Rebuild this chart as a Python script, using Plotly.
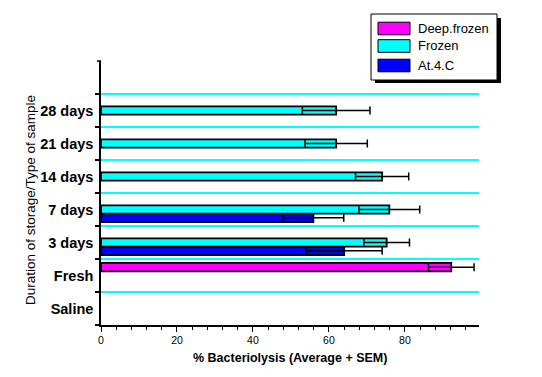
import plotly.graph_objects as go

categories = ["Saline", "Fresh", "3 days", "7 days", "14 days", "21 days", "28 days"]

# series values (% bacteriolysis) and SEM
deep_frozen_cats = ["Fresh"]
deep_frozen_vals = [92.2]
deep_frozen_err = [6.0]

frozen_cats = ["3 days", "7 days", "14 days", "21 days", "28 days"]
frozen_vals = [75.2, 75.9, 74.0, 61.9, 61.9]
frozen_err = [6.0, 8.0, 7.0, 8.2, 8.9]

at4c_cats = ["3 days", "7 days"]
at4c_vals = [64.0, 55.9]
at4c_err = [10.0, 8.0]

x_tick_vals = [0, 20, 40, 60, 80]

FONT = "Liberation Sans, Arial, sans-serif"

fig = go.Figure()

def add_series(name, cats, vals, errs, color):
    fig.add_trace(go.Bar(
        name=name, y=cats, x=vals, orientation="h",
        marker=dict(color=color, line=dict(color="black", width=1.8)),
        error_x=dict(type="data", array=errs, visible=True, color="black",
                     thickness=1.5, width=4),
        showlegend=False,
    ))

# order: bottom slot first
add_series("At.4.C", at4c_cats, at4c_vals, at4c_err, "#0000FF")
add_series("Frozen", frozen_cats, frozen_vals, frozen_err, "#00FFFF")
add_series("Deep.frozen", deep_frozen_cats, deep_frozen_vals, deep_frozen_err, "#FF00FF")

W, H = 542, 377
L, R, T, B = 101, 63, 61, 52
pw, ph = W - L - R, H - T - B

def px(x):
    return (x - L) / pw

def py(y):
    return (H - B - y) / ph

shapes = []
# small tick at top of y axis
shapes.append(dict(type="line", xref="paper", yref="paper",
                   x0=px(97), x1=px(101), y0=1, y1=1,
                   line=dict(color="black", width=1.5)))
# legend box with shadow
shapes.append(dict(type="rect", xref="paper", yref="paper",
                   x0=px(375), x1=px(501), y0=py(18), y1=py(83),
                   fillcolor="black", line=dict(width=0), layer="above"))
shapes.append(dict(type="rect", xref="paper", yref="paper",
                   x0=px(371), x1=px(497), y0=py(14), y1=py(80),
                   fillcolor="white", line=dict(color="black", width=1), layer="above"))

legend_items = [("Deep.frozen", "#FF00FF", 28.5), ("Frozen", "#00FFFF", 46.0), ("At.4.C", "#0000FF", 65.5)]
annotations = []
for name, color, cy in legend_items:
    shapes.append(dict(type="rect", xref="paper", yref="paper",
                       x0=px(378), x1=px(410), y0=py(cy - 6.3), y1=py(cy + 6.3),
                       fillcolor=color, line=dict(color="black", width=1), layer="above"))
    annotations.append(dict(xref="paper", yref="paper", x=px(416), y=py(cy),
                            text=name, showarrow=False, xanchor="left", yanchor="middle",
                            font=dict(family=FONT, size=13, color="black")))

annotations.append(dict(xref="paper", yref="paper", x=px(289.5), y=py(358),
                        text="<b>% Bacteriolysis (Average + SEM)</b>", showarrow=False,
                        xanchor="center", yanchor="middle",
                        font=dict(family=FONT, size=12.5, color="black")))
annotations.append(dict(xref="paper", yref="paper", x=px(30), y=py(200),
                        text="Duration of storage/Type of sample", showarrow=False,
                        textangle=-90, xanchor="center", yanchor="middle",
                        font=dict(family=FONT, size=13.5, color="black")))

fig.update_layout(
    width=W, height=H,
    margin=dict(l=L, r=R, t=T, b=B, pad=0),
    paper_bgcolor="white", plot_bgcolor="white",
    barmode="group", bargap=0.24, bargroupgap=0,
    font=dict(family=FONT, color="black"),
    shapes=shapes, annotations=annotations,
    showlegend=False,
)

fig.update_xaxes(
    range=[0, 99.5], tickmode="array", tickvals=x_tick_vals,
    ticks="outside", ticklen=5, tickwidth=1, tickcolor="black",
    showline=True, linecolor="black", linewidth=1.5,
    showgrid=False, zeroline=False,
    tickfont=dict(family=FONT, size=10.5, color="black"),
    minor=dict(tickmode="linear", tick0=0, dtick=4, ticks="outside",
               ticklen=3, tickcolor="black", showgrid=False),
)

fig.update_yaxes(
    type="category", categoryorder="array", categoryarray=categories,
    range=[-0.5, 7.5], tickson="boundaries",
    ticks="outside", ticklen=4, tickwidth=1.5, tickcolor="black",
    showline=True, linecolor="black", linewidth=1.5,
    showgrid=True, gridcolor="#00FFFF", gridwidth=1.5,
    zeroline=False, ticklabelstandoff=3,
    tickfont=dict(family=FONT, size=14.5, color="black", weight="bold"),
)

fig.write_html("out.html", config={"displayModeBar": False},
               post_script="document.body.style.margin='0';document.body.style.overflow='hidden';")
